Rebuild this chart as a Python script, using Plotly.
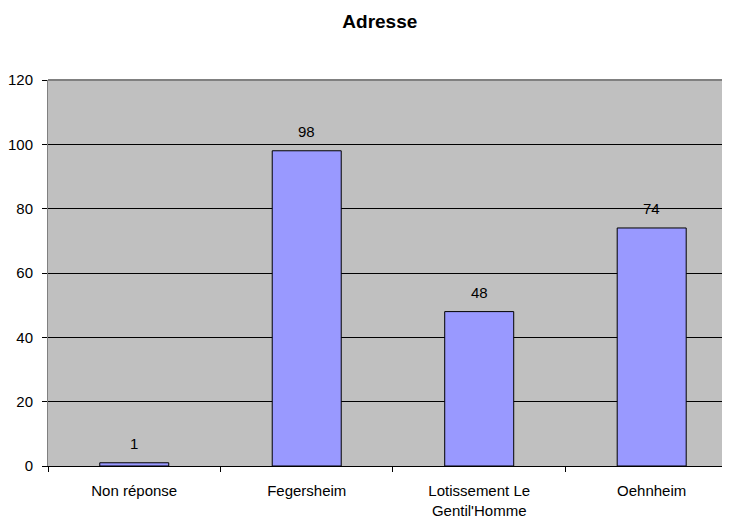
import plotly.graph_objects as go

categories = ["Non réponse", "Fegersheim", "Lotissement Le<br>Gentil'Homme", "Oehnheim"]
values = [1, 98, 48, 74]
y_ticks = [0, 20, 40, 60, 80, 100, 120]

FONT = "Liberation Sans, Arial"

fig = go.Figure()
fig.add_trace(go.Bar(
    x=categories, y=values,
    width=0.4,
    marker=dict(color="#9999FF", line=dict(color="#000000", width=1)),
))

# value labels above bars
for c, v in zip(categories, values):
    fig.add_annotation(x=c, y=v, text=str(v), showarrow=False,
                       yanchor="bottom", yshift=9,
                       font=dict(family=FONT, size=15, color="#000000"))

# page body has an 8px margin -> figure is offset by 8px
fig.update_layout(
    width=722, height=512,
    margin=dict(l=40, r=0, t=72, b=54),
    paper_bgcolor="white",
    plot_bgcolor="#C0C0C0",
    showlegend=False,
    font=dict(family=FONT, size=15, color="#000000"),
    title=dict(text="<b>Adresse</b>", x=0.515, xanchor="center", y=0.973, yanchor="middle",
               font=dict(family=FONT, size=19, color="#000000")),
)
fig.update_yaxes(
    range=[0, 120], tickvals=y_ticks,
    showgrid=True, gridcolor="#000000", gridwidth=1,
    showline=True, linecolor="#808080", linewidth=1,
    ticks="outside", ticklen=5, tickcolor="#000000",
    ticklabelstandoff=6, automargin=False,
    zeroline=False,
    tickfont=dict(size=15),
)
fig.update_xaxes(
    range=[-0.5, 3.454],
    showline=True, linecolor="#000000", linewidth=1,
    ticks="outside", tickson="boundaries", ticklen=5, tickcolor="#000000",
    ticklabelstandoff=11, automargin=False,
    showgrid=False,
    tickfont=dict(size=15),
)
fig.add_shape(type="line", xref="paper", yref="paper", x0=0, x1=1, y0=1, y1=1,
              line=dict(color="#808080", width=2), layer="above")

fig.write_html("out.html")
